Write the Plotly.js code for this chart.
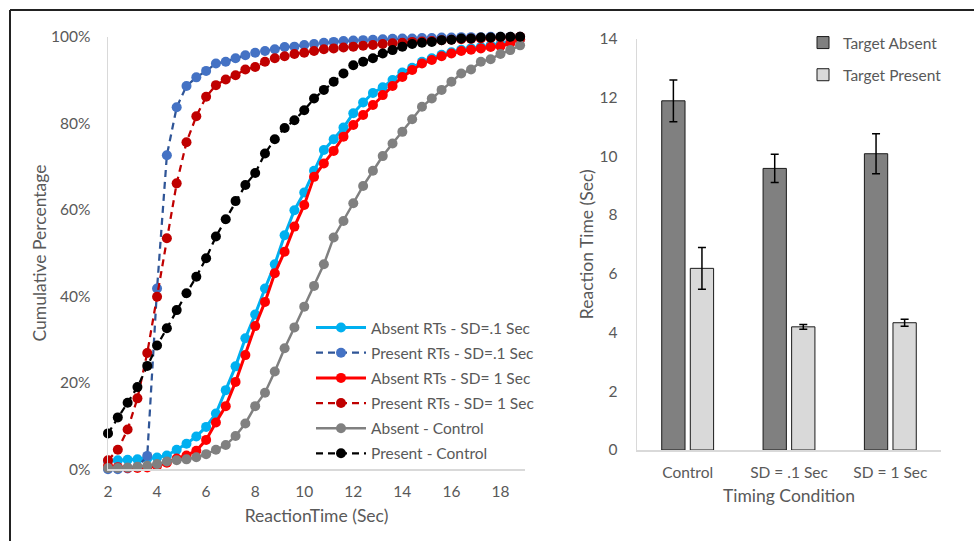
<!DOCTYPE html>
<html>
<head>
<meta charset="utf-8">
<script src="https://cdn.plot.ly/plotly-3.0.1.min.js"></script>
<style>html,body{margin:0;padding:0;background:#fff;}#chart{width:974px;height:541px;}</style>
</head>
<body>
<div id="chart"></div>
<script>
// ---- Left chart data: cumulative percentage of reaction times ----
const reactionTimes = [2, 2.4, 2.8, 3.2, 3.6, 4, 4.4, 4.8, 5.2, 5.6, 6, 6.4, 6.8, 7.2, 7.6, 8, 8.4, 8.8, 9.2, 9.6, 10, 10.4, 10.8, 11.2, 11.6, 12, 12.4, 12.8, 13.2, 13.6, 14, 14.4, 14.8, 15.2, 15.6, 16, 16.4, 16.8, 17.2, 17.6, 18, 18.4, 18.8];
const absentSD01 = [1.9, 2.1, 2.2, 2.3, 2.5, 2.7, 3.2, 4.5, 5.9, 7.6, 9.8, 12.9, 18.3, 23.8, 30.3, 35.8, 41.8, 47.4, 54.1, 59.9, 64.0, 69.0, 73.8, 76.3, 79.0, 82.3, 84.8, 87.0, 88.3, 90.0, 91.7, 92.8, 94.2, 95.0, 95.8, 96.4, 97.0, 97.3, 97.6, 98.0, 98.3, 98.8, 99.4];
const presentSD01 = [0, 0, 0.2, 0.5, 3.1, 41.8, 72.6, 83.7, 88.6, 90.6, 92.1, 93.8, 94.2, 95.0, 95.7, 96.3, 96.7, 97.1, 97.6, 97.7, 98.1, 98.3, 98.6, 98.8, 99.0, 99.1, 99.2, 99.3, 99.4, 99.5, 99.6, 99.6, 99.7, 99.7, 99.8, 99.8, 99.9, 99.9, 99.9, 100, 100, 100, 100];
const absentSD1 = [0.8, 0.5, 0.3, 0.3, 0.4, 0.8, 1.5, 2.5, 3.2, 4.3, 6.8, 10.8, 14.6, 20.2, 26.4, 33.1, 38.7, 45.3, 50.3, 56.1, 61.1, 67.6, 70.7, 73.6, 76.9, 79.6, 81.9, 84.2, 86.5, 88.6, 90.7, 92.3, 93.8, 94.6, 95.5, 96.1, 96.7, 97.0, 97.3, 97.6, 97.8, 98.5, 99.4];
const presentSD1 = [2.1, 4.5, 9.2, 16.4, 26.9, 39.9, 53.4, 66.1, 75.6, 81.6, 86.1, 88.8, 90.1, 91.1, 92.4, 93.0, 94.2, 95.0, 95.5, 96.0, 96.3, 96.7, 97.1, 97.3, 97.5, 97.7, 97.9, 98.1, 98.3, 98.5, 98.6, 98.8, 98.9, 99.0, 99.2, 99.3, 99.4, 99.5, 99.6, 99.7, 99.8, 99.9, 100];
const absentControl = [0.3, 0.3, 0.4, 0.6, 0.8, 1.2, 1.8, 2.1, 2.3, 2.8, 3.5, 4.5, 5.6, 7.7, 10.6, 14.6, 17.7, 22.6, 28.0, 32.8, 37.6, 42.4, 47.4, 53.6, 57.4, 61.5, 65.5, 69.0, 72.4, 75.3, 78.0, 80.9, 83.8, 85.7, 87.7, 89.6, 91.5, 92.4, 94.2, 94.8, 96.0, 96.9, 98.0];
const presentControl = [8.3, 12.0, 15.4, 19.0, 23.9, 28.6, 32.6, 36.8, 40.7, 44.5, 48.8, 53.8, 57.8, 62.0, 65.7, 68.5, 73.0, 76.3, 78.9, 80.7, 83.0, 85.7, 87.7, 89.6, 91.5, 93.4, 94.2, 95.0, 96.1, 96.9, 97.7, 98.3, 98.6, 98.8, 99.2, 99.3, 99.6, 99.6, 99.8, 99.8, 100, 100, 100];
const seriesNames = ['Absent RTs - SD=.1 Sec', 'Present RTs - SD=.1 Sec', 'Absent RTs - SD= 1 Sec', 'Present RTs - SD= 1 Sec', 'Absent - Control', 'Present - Control'];
const pctTicks = [0, 20, 40, 60, 80, 100];
const pctTickLabels = ['0%', '20%', '40%', '60%', '80%', '100%'];
const rtTicks = [2, 4, 6, 8, 10, 12, 14, 16, 18];

// ---- Right chart data: mean reaction time by timing condition ----
const conditions = ['Control', 'SD = .1 Sec', 'SD = 1 Sec'];
const targetAbsent = [11.88, 9.58, 10.08];
const targetAbsentErr = [0.71, 0.48, 0.68];
const targetPresent = [6.18, 4.19, 4.33];
const targetPresentErr = [0.71, 0.08, 0.12];
const barNames = ['Target Absent', 'Target Present'];

const W = 974, H = 541;
const px = v => v / W;
const py = v => 1 - v / H;
const FONT = 'Lato, "Open Sans", sans-serif';
const TXT = '#595959';
const TITLE_SIZE = 17.5;

function lineTrace(y, name, idx, lineColor, markerColor, width, dash) {
  return {
    type: 'scatter', mode: 'lines+markers', x: reactionTimes, y: y, name: name,
    xaxis: 'x', yaxis: 'y', legend: 'legend', legendgroup: 'g' + idx,
    line: {color: lineColor, width: width, dash: dash},
    marker: {color: markerColor, size: 10},
    cliponaxis: false, hoverinfo: 'skip'
  };
}

const traces = [
  lineTrace(absentSD01, seriesNames[0], 0, '#00B0F0', '#00B0F0', 3, 'solid'),
  lineTrace(presentSD01, seriesNames[1], 1, '#2F5597', '#4472C4', 2.25, '7px,5px'),
  lineTrace(absentSD1, seriesNames[2], 2, '#FF0000', '#FF0000', 3, 'solid'),
  lineTrace(presentSD1, seriesNames[3], 3, '#C00000', '#C00000', 2.25, '7px,5px'),
  lineTrace(absentControl, seriesNames[4], 4, '#808080', '#808080', 2.5, 'solid'),
  lineTrace(presentControl, seriesNames[5], 5, '#000000', '#000000', 2.25, '7px,5px'),
  {
    type: 'bar', x: conditions, y: targetAbsent, name: barNames[0], xaxis: 'x2', yaxis: 'y2',
    legend: 'legend2', legendgroup: 'b0',
    marker: {color: '#808080', line: {color: '#1a1a1a', width: 1}},
    error_y: {type: 'data', array: targetAbsentErr, color: '#000', thickness: 1.5, width: 4},
    hoverinfo: 'skip'
  },
  {
    type: 'bar', x: conditions, y: targetPresent, name: barNames[1], xaxis: 'x2', yaxis: 'y2',
    legend: 'legend2', legendgroup: 'b1',
    marker: {color: '#D9D9D9', line: {color: '#1a1a1a', width: 1}},
    error_y: {type: 'data', array: targetPresentErr, color: '#000', thickness: 1.5, width: 4},
    hoverinfo: 'skip'
  }
];

const axisCommon = {
  showgrid: false, zeroline: false, showline: true, linecolor: '#D9D9D9', linewidth: 1.5,
  ticks: '', tickfont: {family: FONT, size: 15.5, color: TXT}, fixedrange: true
};

const layout = {
  width: W, height: H,
  margin: {l: 0, r: 0, t: 0, b: 0},
  paper_bgcolor: '#fff', plot_bgcolor: 'rgba(0,0,0,0)',
  font: {family: FONT, color: TXT},
  showlegend: true,
  barmode: 'group', bargap: 0.436, bargroupgap: 0.185,
  xaxis: Object.assign({}, axisCommon, {
    domain: [px(108), px(525)], range: [2, 19], tickvals: rtTicks,
    ticklabelstandoff: 8,
    title: {text: 'ReactionTime (Sec)', font: {family: FONT, size: TITLE_SIZE, color: TXT}, standoff: 10}
  }),
  yaxis: Object.assign({}, axisCommon, {
    domain: [py(469.3), py(36.7)], range: [0, 100], tickvals: pctTicks, ticktext: pctTickLabels,
    ticklabelstandoff: 13,
    title: {text: 'Cumulative Percentage', font: {family: FONT, size: TITLE_SIZE, color: TXT}, standoff: 0}
  }),
  xaxis2: Object.assign({}, axisCommon, {
    domain: [px(637), px(941)], anchor: 'y2', range: [-0.5, 2.5], type: 'category',
    ticklabelstandoff: 8,
    title: {text: 'Timing Condition', font: {family: FONT, size: TITLE_SIZE, color: TXT}, standoff: 9}
  }),
  yaxis2: Object.assign({}, axisCommon, {
    domain: [py(450), py(38.5)], anchor: 'x2', range: [0, 14], dtick: 2,
    ticklabelstandoff: 15,
    title: {text: 'Reaction Time (Sec)', font: {family: FONT, size: TITLE_SIZE, color: TXT}, standoff: 1}
  }),
  legend: {
    x: px(311), y: py(311), xanchor: 'left', yanchor: 'top',
    bgcolor: 'rgba(0,0,0,0)', itemwidth: 50, tracegroupgap: 2,
    font: {family: FONT, size: 15.5, color: TXT}, traceorder: 'grouped'
  },
  legend2: {
    x: px(803), y: py(26), xanchor: 'left', yanchor: 'top',
    bgcolor: 'rgba(0,0,0,0)', tracegroupgap: 9,
    font: {family: FONT, size: 15.5, color: TXT}, traceorder: 'grouped'
  },
  shapes: [
    {type: 'line', xref: 'paper', yref: 'paper', x0: px(10), x1: px(980), y0: py(10), y1: py(10), line: {color: '#222', width: 2}},
    {type: 'line', xref: 'paper', yref: 'paper', x0: px(10), x1: px(10), y0: py(10), y1: py(560), line: {color: '#222', width: 2}}
  ]
};

Plotly.newPlot('chart', traces, layout, {displayModeBar: false, staticPlot: true});
</script>
</body>
</html>
